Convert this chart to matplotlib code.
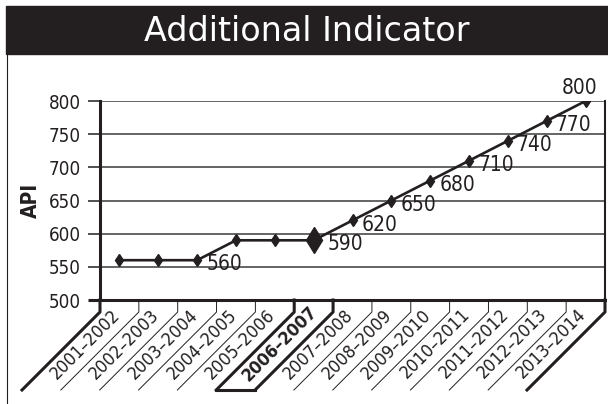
import matplotlib
matplotlib.use('Agg')
import matplotlib.pyplot as plt
from matplotlib.lines import Line2D
from matplotlib.patches import Rectangle
from matplotlib.transforms import IdentityTransform

# Data
years = ['2001–2002', '2002–2003', '2003–2004', '2004–2005', '2005–2006',
         '2006–2007', '2007–2008', '2008–2009', '2009–2010', '2010–2011',
         '2011–2012', '2012–2013', '2013–2014']
api = [560, 560, 560, 590, 590, 590, 620, 650, 680, 710, 740, 770, 800]
labelled = [2, 5, 6, 7, 8, 9, 10, 11, 12]
highlight = 5

INK = '#231f20'
NARROW = dict(family=['DejaVu Sans'], stretch='condensed')

fig = plt.figure(figsize=(6.08, 4.04), dpi=100)
ax = fig.add_axes([100 / 608, 104 / 404, 505 / 608, 199 / 404])

x = list(range(len(years)))
ax.plot(x, api, color=INK, lw=1.9, marker='d', ms=6.5, zorder=3)
ax.plot(x[highlight], api[highlight], color=INK, marker='d', ms=13, zorder=4)

ax.set_xlim(-0.5, len(years) - 0.5)
ax.set_ylim(500, 800)
ax.set_yticks(range(500, 801, 50))
ax.set_xticks([])
ax.grid(axis='y', color='#3a3a3a', lw=1.1)
ax.set_axisbelow(True)
ax.tick_params(axis='y', length=8.6, width=1.1, color=INK, pad=5,
               labelsize=13.5, labelcolor=INK)
for lab in ax.get_yticklabels():
    lab.set_family(NARROW['family'])
    lab.set_stretch(NARROW['stretch'])
ax.yaxis.get_major_ticks()[0].tick1line.set_markeredgewidth(2.2)
ax.spines['top'].set_visible(False)
ax.spines['left'].set_linewidth(2.2)
ax.spines['bottom'].set_linewidth(2.2)
ax.spines['right'].set_linewidth(1.5)
for s in ax.spines.values():
    s.set_color(INK)

ax.set_ylabel('API', fontsize=15, fontweight='bold', color=INK, labelpad=6,
              **NARROW)

# data labels
for i in labelled:
    if i == len(years) - 1:
        ax.annotate(str(api[i]), (x[i], api[i]), xytext=(-4, 5),
                    textcoords='offset points', ha='center', va='baseline',
                    fontsize=15, color=INK, **NARROW)
    else:
        dx = 10 if i == highlight else 6.5
        ax.annotate(str(api[i]), (x[i], api[i]), xytext=(dx, -3),
                    textcoords='offset points', ha='left', va='center',
                    fontsize=15, color=INK, **NARROW)

# slanted category dividers and labels (in pixels)
ident = IdentityTransform()
for k in range(len(years) + 1):
    bx, by = ax.transData.transform((k - 0.5, 500))
    thick = k in (0, len(years), highlight, highlight + 1)
    fig.add_artist(Line2D([bx, bx, bx - 78], [by, by - 12, by - 90],
                          color=INK, lw=2.2 if thick else 0.7,
                          transform=ident))
b0 = ax.transData.transform((highlight - 0.5, 500))
b1 = ax.transData.transform((highlight + 0.5, 500))
fig.add_artist(Line2D([b0[0] - 78, b1[0] - 78], [b0[1] - 90, b1[1] - 90],
                      color=INK, lw=2.2, transform=ident))

for i, name in enumerate(years):
    cx, cy = ax.transData.transform((i, 500))
    fig.text(cx - 34, cy - 44, name, transform=ident, rotation=45,
             rotation_mode='anchor', ha='center', va='center',
             fontsize=13, color=INK,
             fontweight='bold' if i == highlight else 'normal', **NARROW)

# title bar and frame
fig.add_artist(Rectangle((6, 350), 602, 48, color=INK, transform=ident))
fig.text(307, 363, 'Additional Indicator', transform=ident, ha='center',
         va='baseline', fontsize=24, color='white', family='DejaVu Sans')
fig.add_artist(Line2D([7, 7], [0, 350], color=INK, lw=0.8, transform=ident))

fig.savefig('out.png', dpi=100)
